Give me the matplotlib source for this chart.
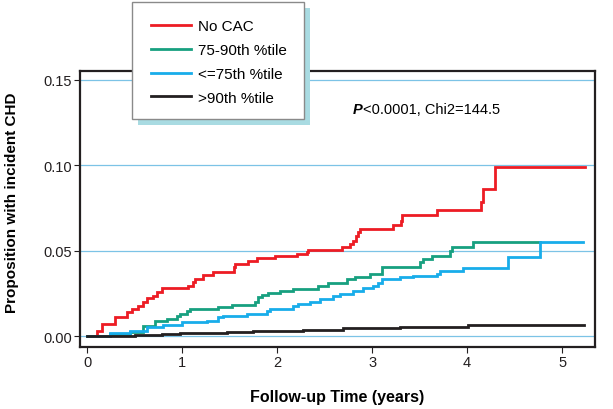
import matplotlib.pyplot as plt
from matplotlib.patches import Rectangle

plt.rcParams['font.family'] = ['Liberation Sans', 'DejaVu Sans']

# Kaplan-Meier style cumulative incidence
no_cac_t = [0, 0.10, 0.154, 0.295, 0.418, 0.470, 0.540, 0.593, 0.628, 0.698, 0.733, 0.786,
            1.067, 1.119, 1.137, 1.225, 1.330, 1.547, 1.558, 1.698, 1.786, 1.979, 2.207,
            2.312, 2.330, 2.681, 2.768, 2.804, 2.832, 2.856, 2.874, 3.225, 3.305, 3.312,
            3.688, 4.147, 4.172, 4.295, 5.242]
no_cac_y = [0, 0.0031, 0.0070, 0.0109, 0.0138, 0.0158, 0.0177, 0.0197, 0.0220, 0.0236,
            0.0255, 0.0279, 0.0294, 0.0314, 0.0333, 0.0357, 0.0376, 0.0402, 0.0421, 0.0441,
            0.0454, 0.0470, 0.0480, 0.0493, 0.0505, 0.0519, 0.0538, 0.0558, 0.0587, 0.0606,
            0.0626, 0.0651, 0.0674, 0.0710, 0.0739, 0.0782, 0.0860, 0.0986, 0.0986]

p75_90_t = [0, 0.242, 0.453, 0.593, 0.716, 0.839, 0.944, 0.979, 1.049, 1.084, 1.382, 1.523,
            1.768, 1.804, 1.839, 1.909, 2.032, 2.172, 2.435, 2.540, 2.733, 2.821, 2.979,
            3.102, 3.505, 3.540, 3.628, 3.821, 3.839, 4.067, 4.768]
p75_90_y = [0, 0.0012, 0.0021, 0.0060, 0.0086, 0.0099, 0.0119, 0.0129, 0.0144, 0.0158,
            0.0168, 0.0181, 0.0197, 0.0226, 0.0240, 0.0251, 0.0265, 0.0275, 0.0294, 0.0308,
            0.0333, 0.0343, 0.0363, 0.0402, 0.0431, 0.0450, 0.0470, 0.0499, 0.0522, 0.0552,
            0.0552]

le75_t = [0, 0.242, 0.453, 0.628, 0.804, 0.996, 1.260, 1.382, 1.435, 1.681, 1.891, 1.926,
          2.172, 2.225, 2.347, 2.453, 2.593, 2.663, 2.804, 2.909, 3.014, 3.067, 3.102,
          3.295, 3.435, 3.681, 3.716, 3.961, 4.435, 4.768, 5.225]
le75_y = [0, 0.0018, 0.0031, 0.0051, 0.0066, 0.0080, 0.0090, 0.0109, 0.0115, 0.0129, 0.0148,
          0.0158, 0.0177, 0.0187, 0.0201, 0.0216, 0.0232, 0.0246, 0.0261, 0.0279, 0.0294,
          0.0310, 0.0333, 0.0343, 0.0353, 0.0363, 0.0382, 0.0396, 0.0460, 0.0552, 0.0552]

gt90_t = [0, 0.505, 0.786, 0.979, 1.470, 1.751, 2.277, 2.698, 3.295, 3.926, 4.014, 5.232]
gt90_y = [0, 0.0006, 0.0012, 0.0018, 0.0025, 0.0031, 0.0037, 0.0045, 0.0051, 0.0055,
          0.0064, 0.0064]

labels = ['No CAC', '75-90th %tile', '<=75th %tile', '>90th %tile']
colors = ['#ed1c24', '#17a080', '#18adea', '#231f20']
xticks = [0, 1, 2, 3, 4, 5]
yticks = [0.00, 0.05, 0.10, 0.15]

fig = plt.figure(figsize=(6.13, 4.10), dpi=100)
ax = fig.add_axes([80 / 613, 62 / 410, 515 / 613, 276 / 410])

series = [(no_cac_t, no_cac_y), (p75_90_t, p75_90_y), (le75_t, le75_y), (gt90_t, gt90_y)]
handles = []
for (t, y), lab, c in zip(series, labels, colors):
    h, = ax.step(t, y, where='post', color=c, lw=2.0, label=lab, solid_joinstyle='miter')
    handles.append(h)

ax.set_xlim(-0.074, 5.347)
ax.set_ylim(-0.0064, 0.155)
ax.set_xticks(xticks)
ax.set_xticklabels([str(v) for v in xticks])
ax.set_yticks(yticks)
ax.set_yticklabels(['%.2f' % v for v in yticks])
for v in yticks:
    ax.axhline(v, color='#7cc3e6', lw=0.9, zorder=0)

for s in ax.spines.values():
    s.set_linewidth(1.6)
    s.set_color('#231f20')
ax.tick_params(direction='out', length=4, width=0.8, labelsize=10.5, colors='#231f20', pad=2)

ax.set_xlabel('Follow-up Time (years)', fontsize=11.5, fontweight='bold', labelpad=14)
ax.set_ylabel('Proposition with incident CHD', fontsize=11, fontweight='bold')
ax.yaxis.set_label_coords(-0.118, 0.525)

t1 = ax.text(2.80, 0.1327, 'P', fontsize=10.5, fontweight='bold', fontstyle='italic',
             va='center', ha='left')
ax.annotate('<0.0001, Chi2=144.5', xy=(1, 0.5), xycoords=t1, va='center', ha='left',
            fontsize=10.5)

# legend box with shadow
fig.patches.append(Rectangle((138 / 613, 1 - 126 / 410), 172 / 613, 117 / 410,
                             transform=fig.transFigure, facecolor='#a9dbe2',
                             edgecolor='none', zorder=3))
fig.patches.append(Rectangle((132 / 613, 1 - 120 / 410), 172 / 613, 117 / 410,
                             transform=fig.transFigure, facecolor='white',
                             edgecolor='#8a8a8a', lw=1.0, zorder=4))
fig.legend(handles=handles, labels=labels, loc='upper left',
           bbox_to_anchor=(151 / 613, 1 - 20 / 410), frameon=False, fontsize=11,
           handlelength=2.6, handletextpad=0.5, labelspacing=0.65,
           borderpad=0, borderaxespad=0).set_zorder(5)

fig.savefig('out.png', dpi=100)
